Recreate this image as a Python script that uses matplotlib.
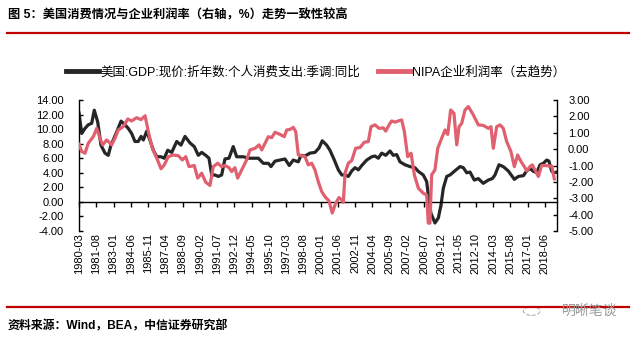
import matplotlib
matplotlib.use("Agg")
import matplotlib.pyplot as plt
from matplotlib.lines import Line2D
from matplotlib.patches import Circle

plt.rcParams['font.family'] = ['Liberation Sans', 'Noto Sans CJK SC']
plt.rcParams['axes.unicode_minus'] = False

# 美国:GDP:现价:折年数:个人消费支出:季调:同比 (左轴, %)
pce_t = [1980.17, 1980.39, 1980.66, 1980.93, 1981.21, 1981.42, 1981.70, 1981.97, 1982.30, 1982.57,
         1982.79, 1982.98, 1983.26, 1983.62, 1983.94, 1984.21, 1984.49, 1984.76, 1985.03, 1985.26,
         1985.45, 1985.72, 1985.99, 1986.27, 1986.55, 1986.90, 1987.17, 1987.45, 1987.78, 1988.19,
         1988.54, 1988.87, 1989.28, 1989.63, 1989.96, 1990.24, 1990.57, 1990.84, 1991.06, 1991.33,
         1991.60, 1991.88, 1992.15, 1992.48, 1992.83, 1993.11, 1993.66, 1994.07, 1994.48, 1994.89,
         1995.30, 1995.71, 1995.93, 1996.26, 1996.67, 1997.08, 1997.43, 1997.76, 1998.17, 1998.39,
         1998.72, 1999.13, 1999.54, 1999.87, 2000.14, 2000.50, 2000.77, 2001.13, 2001.46, 2001.74,
         2002.01, 2002.28, 2002.56, 2002.83, 2003.10, 2003.38, 2003.79, 2004.20, 2004.47, 2004.74,
         2005.02, 2005.35, 2005.70, 2005.97, 2006.25, 2006.52, 2006.93, 2007.34, 2007.75, 2008.02,
         2008.43, 2008.71, 2008.84, 2009.06, 2009.39, 2009.67, 2009.89, 2010.08, 2010.36, 2010.63,
         2010.98, 2011.45, 2011.72, 2012.00, 2012.27, 2012.62, 2012.95, 2013.36, 2013.77, 2014.10,
         2014.32, 2014.65, 2015.00, 2015.41, 2015.91, 2016.24, 2016.65, 2016.92, 2017.19, 2017.47,
         2017.74, 2018.02, 2018.29, 2018.57, 2018.75, 2018.98, 2019.19, 2019.41]
pce_v = [12.2, 9.4, 10.1, 10.6, 10.8, 12.6, 11.0, 7.8, 6.7, 6.4,
         7.8, 8.5, 9.6, 11.1, 10.6, 10.1, 9.4, 8.3, 8.3, 9.0,
         8.5, 9.7, 8.5, 7.1, 6.2, 6.2, 6.0, 7.1, 6.8, 8.3,
         7.8, 9.0, 8.1, 7.6, 6.4, 6.8, 6.4, 6.0, 3.7, 3.7,
         3.5, 3.7, 5.9, 6.0, 7.6, 6.2, 6.2, 6.0, 6.0, 6.0,
         5.3, 5.3, 4.85, 5.6, 5.75, 5.9, 5.0, 5.75, 5.5, 6.4,
         6.3, 6.7, 6.8, 7.4, 8.4, 7.8, 7.1, 5.75, 4.4, 3.7,
         3.7, 3.5, 4.25, 4.7, 4.4, 5.0, 5.75, 6.2, 6.3, 6.0,
         6.7, 6.4, 7.0, 6.4, 6.5, 5.5, 5.1, 4.85, 4.7, 4.2,
         3.7, 2.8, 1.0, -1.55, -2.9, -2.2, -0.4, 1.9, 3.5, 3.7,
         4.2, 4.85, 4.7, 4.0, 4.1, 3.0, 3.2, 2.55, 3.0, 3.2,
         3.7, 5.1, 4.85, 4.25, 3.1, 3.5, 3.6, 4.25, 4.6, 4.2,
         4.0, 5.1, 5.3, 5.75, 5.6, 4.2, 4.0, 4.1]

# NIPA企业利润率（去趋势）(右轴)
nipa_t = [1980.17, 1980.39, 1980.66, 1980.93, 1981.34, 1981.62, 1981.89, 1982.11, 1982.44, 1982.85,
          1983.12, 1983.39, 1983.80, 1984.17, 1984.49, 1984.90, 1985.26, 1985.59, 1985.86, 1986.18,
          1986.55, 1986.90, 1987.17, 1987.50, 1987.91, 1988.32, 1988.65, 1988.93, 1989.20, 1989.63,
          1989.91, 1990.24, 1990.57, 1990.92, 1991.19, 1991.55, 1991.88, 1992.15, 1992.48, 1992.70,
          1992.97, 1993.19, 1993.52, 1993.93, 1994.21, 1994.62, 1994.95, 1995.17, 1995.44, 1995.71,
          1995.99, 1996.26, 1996.67, 1997.02, 1997.22, 1997.49, 1997.76, 1997.96, 1998.17, 1998.45,
          1998.72, 1998.99, 1999.27, 1999.54, 1999.81, 2000.09, 2000.36, 2000.69, 2000.96, 2001.24,
          2001.51, 2001.74, 2001.87, 2002.01, 2002.28, 2002.56, 2002.88, 2003.24, 2003.59, 2003.92,
          2004.14, 2004.47, 2004.80, 2005.15, 2005.35, 2005.62, 2005.84, 2006.11, 2006.38, 2006.66,
          2006.88, 2007.15, 2007.43, 2007.70, 2008.03, 2008.43, 2008.71, 2008.84, 2008.98, 2009.12,
          2009.39, 2009.62, 2009.94, 2010.22, 2010.44, 2010.68, 2010.95, 2011.18, 2011.37, 2011.59,
          2011.86, 2012.13, 2012.54, 2012.95, 2013.36, 2013.77, 2013.99, 2014.18, 2014.46, 2014.73,
          2015.00, 2015.28, 2015.63, 2015.91, 2016.18, 2016.46, 2016.73, 2016.92, 2017.19, 2017.38,
          2017.60, 2017.88, 2018.15, 2018.42, 2018.75, 2018.98, 2019.19]
nipa_v = [0.30, -0.15, -0.25, 0.36, 0.76, 1.27, 0.66, 0.26, 0.56, 0.26,
          0.66, 1.17, 1.37, 1.84, 1.72, 1.92, 1.80, 2.04, 1.07, 0.05,
          -0.55, -1.20, -0.96, -0.46, -0.36, -0.40, -0.66, -0.46, -1.07, -1.00,
          -1.77, -1.47, -2.02, -2.22, -1.07, -0.86, -1.07, -1.00, -1.13, -1.37,
          -1.13, -1.77, -1.27, -0.66, -0.05, 0.05, 0.26, -0.05, 0.36, 0.76,
          0.70, 1.03, 0.90, 0.76, 1.17, 1.20, 1.33, 1.07, -0.35, -0.40,
          -0.46, -0.96, -0.86, -1.27, -1.98, -2.59, -2.90, -3.16, -3.90, -3.30,
          -2.96, -3.10, -3.25, -1.47, -0.86, -0.70, 0.05, 0.10, 0.42, 0.46,
          1.37, 1.48, 1.27, 1.30, 1.10, 1.48, 1.72, 1.65, 1.72, 1.78,
          1.07, -0.46, -0.25, -1.57, -2.39, -2.69, -2.80, -4.52, -4.52, -1.57,
          -1.27, 0.05, 0.66, 1.17, 0.90, 2.39, 2.19, 0.26, 1.37, 1.58,
          2.39, 2.60, 2.09, 1.48, 1.45, 1.27, 1.37, 0.05, 1.37, 1.48,
          1.27, 0.46, -0.15, -1.07, -0.36, -0.76, -1.07, -1.33, -1.07, -0.96,
          -1.27, -1.67, -1.00, -1.00, -1.03, -1.03, -1.82]

tick_labels = ['1980-03', '1981-08', '1983-01', '1984-06', '1985-11', '1987-04', '1988-09',
               '1990-02', '1991-07', '1992-12', '1994-05', '1995-10', '1997-03', '1998-08',
               '2000-01', '2001-06', '2002-11', '2004-04', '2005-09', '2007-02', '2008-07',
               '2009-12', '2011-05', '2012-10', '2014-03', '2015-08', '2017-01', '2018-06']
left_ticks = [-4, -2, 0, 2, 4, 6, 8, 10, 12, 14]
right_ticks = [-5, -4, -3, -2, -1, 0, 1, 2, 3]

label1 = '美国:GDP:现价:折年数:个人消费支出:季调:同比'
label2 = 'NIPA企业利润率（去趋势）'
black = '#262626'
pink = '#E0606F'
red = '#C00000'

tick_pos = [int(s[:4]) + (int(s[5:]) - 1) / 12 for s in tick_labels]

fig = plt.figure(figsize=(6.36, 3.40), dpi=100)
ax = fig.add_axes([79 / 636, 1 - 231 / 340, 478 / 636, 131 / 340])
ax2 = ax.twinx()

l1, = ax.plot(pce_t, pce_v, color=black, lw=2.3, solid_joinstyle='round')
l2, = ax2.plot(nipa_t, nipa_v, color=pink, lw=2.3, solid_joinstyle='round')

ax.set_xlim(tick_pos[0], tick_pos[0] + 478 / 12.18)
ax.set_ylim(-4, 14)
ax2.set_ylim(-5, 3)
ax.set_yticks(left_ticks)
ax.set_yticklabels(['%.2f' % v for v in left_ticks])
ax2.set_yticks(right_ticks)
ax2.set_yticklabels(['%.2f' % v for v in right_ticks])

for s in ['top', 'right']:
    ax.spines[s].set_visible(False)
for s in ['top', 'left', 'bottom']:
    ax2.spines[s].set_visible(False)
ax.spines['bottom'].set_position(('data', 0))
ax.spines['left'].set_linewidth(1.0)
ax.spines['bottom'].set_linewidth(1.0)
ax2.spines['right'].set_linewidth(1.0)

ax.tick_params(axis='y', direction='in', length=3, width=1, labelsize=8, pad=11)
ax2.tick_params(axis='y', direction='in', length=3, width=1, labelsize=8, pad=8)
ax.set_xticks(tick_pos)
ax.tick_params(axis='x', direction='out', length=3.5, width=1, labelbottom=False)

sec = ax.secondary_xaxis('bottom')
sec.set_xticks(tick_pos)
sec.set_xticklabels(tick_labels, rotation=90, fontsize=8)
sec.tick_params(length=0, pad=1.5)
sec.spines['bottom'].set_visible(False)

fig.legend(handles=[Line2D([], [], color=black, lw=3.5), Line2D([], [], color=pink, lw=3.5)],
           labels=[label1, label2], loc='center', bbox_to_anchor=(316 / 636, 1 - 72 / 340),
           ncol=2, frameon=False, fontsize=9, handlelength=2.6, handletextpad=0.15,
           columnspacing=1.4, borderpad=0, borderaxespad=0)

fig.text(8 / 636, 1 - 15 / 340, '图 5：美国消费情况与企业利润率（右轴，%）走势一致性较高',
         fontsize=8.8, weight='bold', va='center', ha='left')
fig.add_artist(Line2D([7 / 636, 629 / 636], [1 - 32.7 / 340] * 2, color=red, lw=1.6))
fig.add_artist(Line2D([7 / 636, 629 / 636], [1 - 307.3 / 340] * 2, color=red, lw=1.6))
fig.text(8 / 636, 1 - 326 / 340, '资料来源：Wind，BEA，中信证券研究部',
         fontsize=8.6, weight='bold', va='center', ha='left')

# 水印
fig.add_artist(Circle((0.836, 1 - 311 / 340), 0.013, transform=fig.transFigure,
                      fill=False, ec='#b0b0b0', lw=0.8, ls='--'))
fig.text(562 / 636, 1 - 311 / 340, '明晰笔谈', fontsize=10, color='#9a9a9a',
         va='center', ha='left')

fig.savefig('out.png', dpi=100)
